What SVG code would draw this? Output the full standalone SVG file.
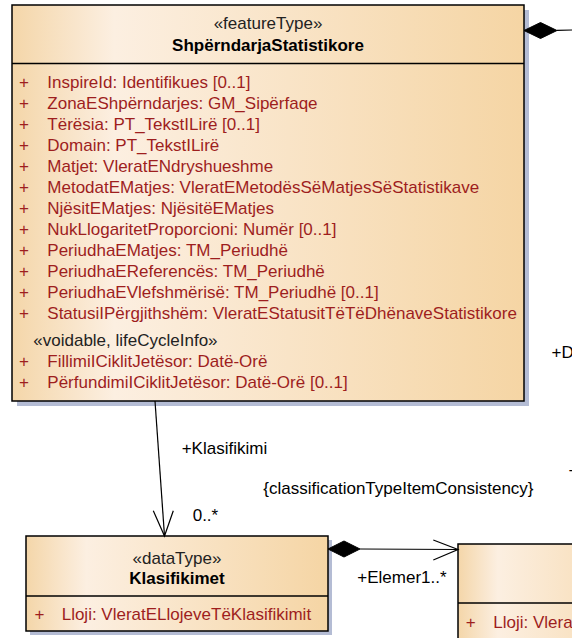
<svg xmlns="http://www.w3.org/2000/svg" width="572" height="638" viewBox="0 0 572 638">
<defs>
<linearGradient id="g" x1="0" y1="0" x2="1" y2="0">
<stop offset="0" stop-color="#f4d6a9"/>
<stop offset="0.2" stop-color="#fcefe1"/>
<stop offset="1" stop-color="#f5d5a4"/>
</linearGradient>
</defs>
<style>
text{font-family:"Liberation Sans",Arial,sans-serif;font-size:17px;fill:#000}
.box{fill:url(#g);stroke:#000;stroke-width:1.5}
.sh{fill:#b4bcd4}
.div{stroke:#000;stroke-width:1.5}
.attr{fill:#9e1e1e}
.b{font-weight:bold}
.st{fill:#222}
.c{text-anchor:middle}
.ln{fill:none;stroke:#000;stroke-width:1.2}
.dm{fill:#000;stroke:#000;stroke-width:1}
</style>
<rect width="572" height="638" fill="#fff"/>

<g id="ShperndarjaStatistikore">
<rect class="sh" x="17" y="10" width="512" height="396"/>
<rect class="box" x="12" y="5" width="512" height="396"/>
<line class="div" x1="12" y1="63.5" x2="524" y2="63.5"/>
<text class="c st" x="268" y="29">«featureType»</text>
<text class="c b" x="268" y="51">ShpërndarjaStatistikore</text>
<g class="attr">
<text class="attr" x="19" y="87.7">+</text><text class="attr" x="47.3" y="87.7">InspireId: Identifikues [0..1]</text>
<text class="attr" x="19" y="108.8">+</text><text class="attr" x="47.3" y="108.8">ZonaEShpërndarjes: GM_Sipërfaqe</text>
<text class="attr" x="19" y="129.8">+</text><text class="attr" x="47.3" y="129.8">Tërësia: PT_TekstILirë [0..1]</text>
<text class="attr" x="19" y="150.9">+</text><text class="attr" x="47.3" y="150.9">Domain: PT_TekstILirë</text>
<text class="attr" x="19" y="171.9">+</text><text class="attr" x="47.3" y="171.9">Matjet: VleratENdryshueshme</text>
<text class="attr" x="19" y="193">+</text><text class="attr" x="47.3" y="193">MetodatEMatjes: VleratEMetodësSëMatjesSëStatistikave</text>
<text class="attr" x="19" y="214">+</text><text class="attr" x="47.3" y="214">NjësitEMatjes: NjësitëEMatjes</text>
<text class="attr" x="19" y="235.1">+</text><text class="attr" x="47.3" y="235.1">NukLlogaritetProporcioni: Numër [0..1]</text>
<text class="attr" x="19" y="256.1">+</text><text class="attr" x="47.3" y="256.1">PeriudhaEMatjes: TM_Periudhë</text>
<text class="attr" x="19" y="277.2">+</text><text class="attr" x="47.3" y="277.2">PeriudhaEReferencës: TM_Periudhë</text>
<text class="attr" x="19" y="298.2">+</text><text class="attr" x="47.3" y="298.2">PeriudhaEVlefshmërisë: TM_Periudhë [0..1]</text>
<text class="attr" x="19" y="319.3">+</text><text class="attr" x="47.3" y="319.3">StatusiIPërgjithshëm: VleratEStatusitTëTëDhënaveStatistikore</text>
</g>
<text class="st" x="33.3" y="345.5">«voidable, lifeCycleInfo»</text>
<text class="attr" x="19" y="366.8">+</text><text class="attr" x="47.3" y="366.8">FillimiICiklitJetësor: Datë-Orë</text>
<text class="attr" x="19" y="387.5">+</text><text class="attr" x="47.3" y="387.5">PërfundimiICiklitJetësor: Datë-Orë [0..1]</text>
</g>

<g id="Klasifikimet">
<rect class="sh" x="30" y="540" width="302" height="95"/>
<rect class="box" x="26" y="536" width="302" height="95"/>
<line class="div" x1="26" y1="596" x2="328" y2="596"/>
<text class="c st" x="177" y="564">«dataType»</text>
<text class="c b" x="177" y="584">Klasifikimet</text>
<text class="attr" x="34.4" y="619.5">+</text><text class="attr" x="61.7" y="619.5">Lloji: VleratELlojeveTëKlasifikimit</text>
</g>

<g id="Elementi">
<rect class="box" x="458" y="544" width="200" height="120"/>
<line class="div" x1="458" y1="603" x2="658" y2="603"/>
<text class="attr" x="465.8" y="628">+</text><text class="attr" x="493.3" y="628">Lloji: Vlera</text>
</g>

<g id="connectors">
<polygon class="dm" points="524,30.5 540.5,22.5 557,30.5 540.5,38.5"/>
<line class="ln" x1="557" y1="30.3" x2="572" y2="30"/>
<line class="ln" x1="155" y1="401" x2="164.5" y2="536"/>
<polyline class="ln" points="153.3,510.7 164.5,536 173.3,510.7"/>
<polygon class="dm" points="328,549 344,541 360,549 344,557"/>
<line class="ln" x1="360" y1="549" x2="458" y2="549.5"/>
<polyline class="ln" points="433.3,540 458,549.5 433.3,560"/>
<text x="181.7" y="454">+Klasifikimi</text>
<text x="192.7" y="521">0..*</text>
<text x="263.3" y="494">{classificationTypeItemConsistency}</text>
<text x="357.3" y="583">+Elemer1..*</text>
<text x="551.5" y="358">+D</text>
<text x="569" y="482">T</text>
</g>
</svg>
